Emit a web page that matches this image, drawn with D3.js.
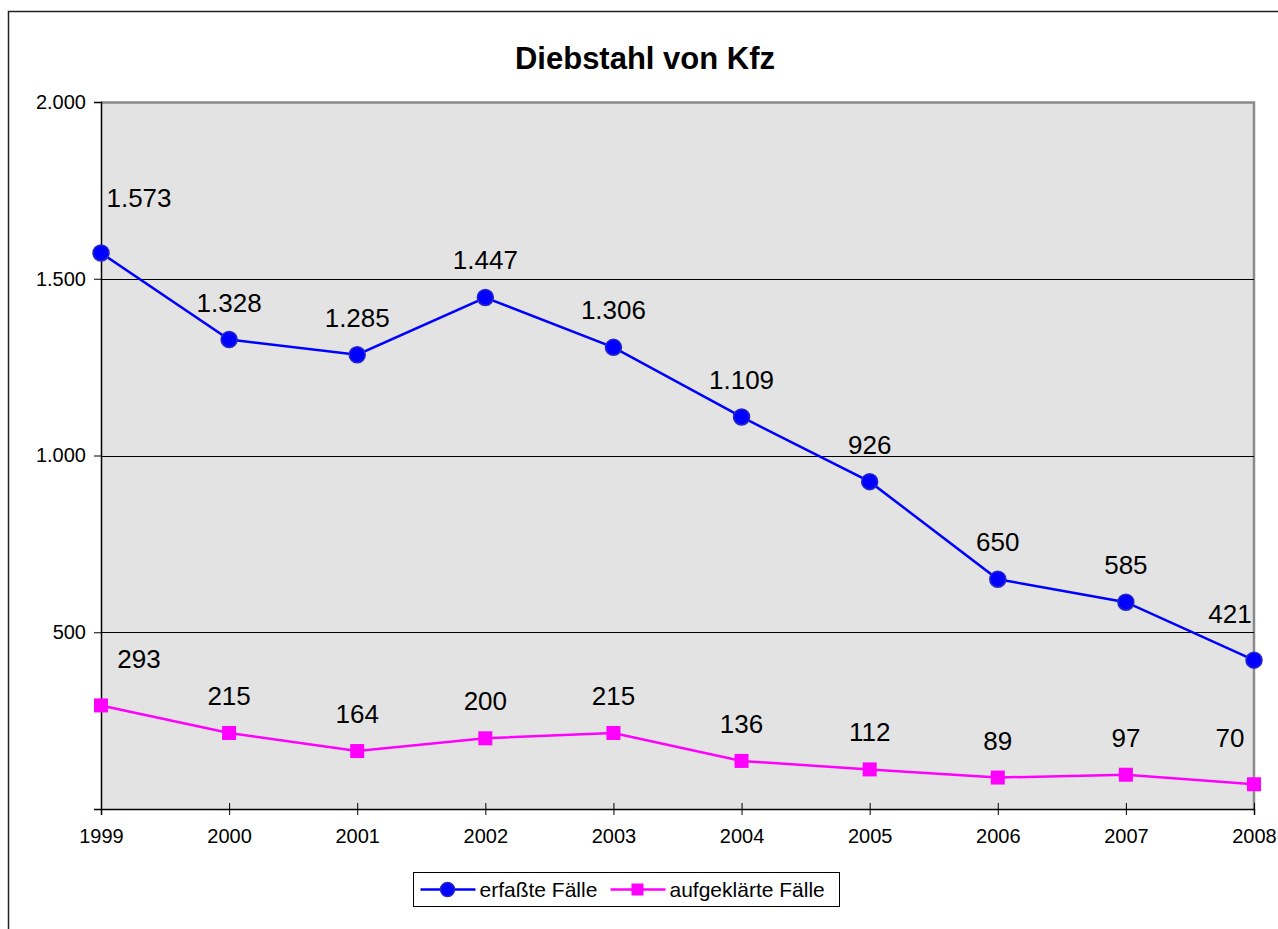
<!DOCTYPE html>
<html>
<head>
<meta charset="utf-8">
<script src="https://cdn.jsdelivr.net/npm/d3@7"></script>
<style>
  body { margin: 0; background: #fff; }
  svg { font-family: "Liberation Sans", Arial, sans-serif; }
</style>
</head>
<body>
<div id="chart"></div>
<script>
const years = ["1999", "2000", "2001", "2002", "2003", "2004", "2005", "2006", "2007", "2008"];
const erfasst = [1573, 1328, 1285, 1447, 1306, 1109, 926, 650, 585, 421];
const aufgeklaert = [293, 215, 164, 200, 215, 136, 112, 89, 97, 70];
const yTicks = [0, 500, 1000, 1500, 2000];

const width = 1278, height = 929;
const margin = { top: 102, right: 24, bottom: 120, left: 101 };
const innerW = width - margin.left - margin.right;
const innerH = height - margin.top - margin.bottom;

const svg = d3.select("#chart").append("svg")
  .attr("width", width)
  .attr("height", height);

// outer frame
svg.append("rect")
  .attr("x", 8.5).attr("y", 11.5)
  .attr("width", 1290).attr("height", 930)
  .attr("fill", "none").attr("stroke", "#222").attr("stroke-width", 1.5);

svg.append("text")
  .attr("x", 645).attr("y", 69)
  .attr("text-anchor", "middle")
  .attr("font-size", 31).attr("font-weight", "bold")
  .text("Diebstahl von Kfz");

const g = svg.append("g").attr("transform", `translate(${margin.left},${margin.top})`);

const x = d3.scalePoint().domain(years).range([0, innerW]);
const y = d3.scaleLinear().domain([0, 2000]).range([innerH, 0]);

// plot area
g.append("rect")
  .attr("width", innerW).attr("height", innerH)
  .attr("fill", "#e3e3e3");
g.append("path")
  .attr("d", `M0,0.5H${innerW}V${innerH}`)
  .attr("fill", "none").attr("stroke", "#8a8a8a").attr("stroke-width", 2.5);

// gridlines
g.selectAll(".grid")
  .data(yTicks.filter(t => t > 0 && t < 2000))
  .enter().append("line")
  .attr("x1", 0).attr("x2", innerW)
  .attr("y1", d => Math.round(y(d)) + 0.5).attr("y2", d => Math.round(y(d)) + 0.5)
  .attr("stroke", "#000").attr("stroke-width", 1);

const fmt = d => d3.format(",")(d).replace(/,/g, ".");

// y axis
const yAxis = g.append("g")
  .call(d3.axisLeft(y).tickValues(yTicks).tickSize(7).tickPadding(8).tickFormat(d => d === 0 ? "" : fmt(d)));
yAxis.select(".domain").attr("stroke", "#000").attr("stroke-width", 1.5);
yAxis.selectAll("text").attr("font-size", 20).attr("fill", "#000")
  .attr("font-family", "Liberation Sans, Arial, sans-serif");

// x axis
const xAxis = g.append("g")
  .attr("transform", `translate(0,${innerH})`)
  .call(d3.axisBottom(x).tickSize(6).tickPadding(14));
xAxis.select(".domain").attr("stroke", "#000").attr("stroke-width", 1.5);
xAxis.selectAll(".tick line").attr("y1", -6);
xAxis.selectAll("text").attr("font-size", 20).attr("fill", "#000")
  .attr("font-family", "Liberation Sans, Arial, sans-serif");

const series = [
  { name: "erfaßte Fälle", values: erfasst, color: "#0000ff", marker: "circle" },
  { name: "aufgeklärte Fälle", values: aufgeklaert, color: "#ff00ff", marker: "square" }
];

const line = d3.line().x((d, i) => x(years[i])).y(d => y(d));

series.forEach(s => {
  g.append("path")
    .attr("d", line(s.values))
    .attr("fill", "none")
    .attr("stroke", s.color)
    .attr("stroke-width", 2.5);

  if (s.marker === "circle") {
    g.selectAll(null).data(s.values).enter().append("circle")
      .attr("cx", (d, i) => x(years[i])).attr("cy", d => y(d))
      .attr("r", 8)
      .attr("fill", s.color).attr("stroke", "#2828c8").attr("stroke-width", 1.5);
  } else {
    g.selectAll(null).data(s.values).enter().append("rect")
      .attr("x", (d, i) => x(years[i]) - 7).attr("y", d => y(d) - 7)
      .attr("width", 14).attr("height", 14)
      .attr("fill", s.color);
  }

  // value labels (edge labels nudged inward like the original)
  const last = s.values.length - 1;
  g.selectAll(null).data(s.values).enter().append("text")
    .attr("x", (d, i) => x(years[i]) + (i === 0 ? 38 : i === last ? -24 : 0))
    .attr("y", (d, i) => y(d) - (i === 0 || i === last ? 37 : 28) - (i === 0 && s.marker === "circle" ? 9 : 0))
    .attr("text-anchor", "middle")
    .attr("font-size", 26)
    .text(d => fmt(d));
});

// legend
const lg = svg.append("g").attr("transform", "translate(413.5,872.5)");
lg.append("rect").attr("width", 426).attr("height", 34)
  .attr("fill", "#fff").attr("stroke", "#000").attr("stroke-width", 1);
const legendX = [7, 197];
series.forEach((s, i) => {
  const item = lg.append("g").attr("transform", `translate(${legendX[i]},17)`);
  item.append("line").attr("x1", 0).attr("x2", 55)
    .attr("stroke", s.color).attr("stroke-width", 2.5);
  if (s.marker === "circle") {
    item.append("circle").attr("cx", 27).attr("r", 7)
      .attr("fill", s.color).attr("stroke", "#2828c8").attr("stroke-width", 1.5);
  } else {
    item.append("rect").attr("x", 21).attr("y", -6).attr("width", 12).attr("height", 12)
      .attr("fill", s.color);
  }
  item.append("text").attr("x", 59).attr("y", 7)
    .attr("font-size", 21).text(s.name);
});
</script>
</body>
</html>
